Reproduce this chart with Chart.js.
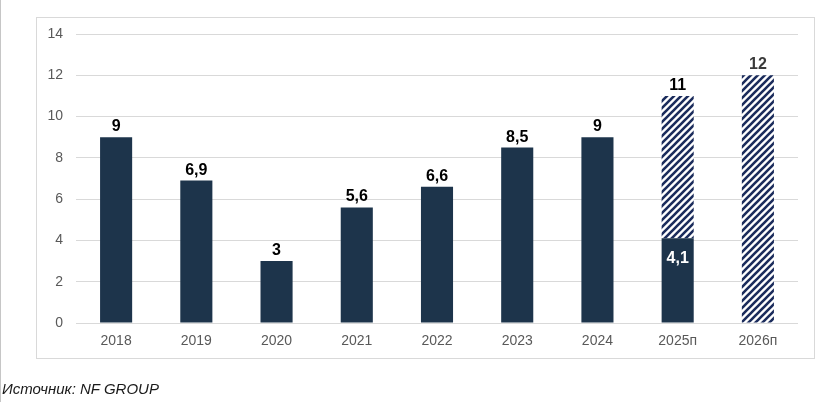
<!DOCTYPE html>
<html><head><meta charset="utf-8">
<script src="https://cdn.jsdelivr.net/npm/chart.js@4"></script>
<style>
html,body{margin:0;padding:0;background:#fff;width:818px;height:402px;overflow:hidden;}
#leftline{position:absolute;left:0;top:0;width:1px;height:402px;background:#c6c6c6;}
#frame{position:absolute;left:36px;top:17px;width:777px;height:340px;border:1px solid #d9d9d9;}
#wrap{position:absolute;left:0;top:0;width:818px;height:402px;}
#src{position:absolute;left:2px;top:380px;font:italic 15px "Liberation Sans",Arial,sans-serif;color:#1a1a1a;white-space:nowrap;}
</style></head>
<body>
<div id="leftline"></div>
<div id="frame"></div>
<div id="wrap"><canvas id="c" width="818" height="402"></canvas></div>
<div id="src">Источник: NF GROUP</div>
<script>
const categories = ["2018","2019","2020","2021","2022","2023","2024","2025п","2026п"];
const actualValues = [9, 6.9, 3, 5.6, 6.6, 8.5, 9, 4.1, null];
const forecastTotals = [null, null, null, null, null, null, null, 11, 12];
const actualLabels = ["9","6,9","3","5,6","6,6","8,5","9","4,1",""];
const forecastLabels = ["","","","","","","","11","12"];
const yTicks = [0, 2, 4, 6, 8, 10, 12, 14];

function makeHatch(){
  const s = 7;
  const p = document.createElement('canvas');
  p.width = s; p.height = s;
  const g = p.getContext('2d');
  g.fillStyle = '#ffffff'; g.fillRect(0,0,s,s);
  g.strokeStyle = '#1b2c5c'; g.lineWidth = 2.6; g.lineCap='square';
  g.beginPath();
  g.moveTo(-1, s+1); g.lineTo(s+1, -1);
  g.moveTo(-1-s, s+1); g.lineTo(1, -1);
  g.moveTo(s-1, s+1); g.lineTo(2*s+1, -1);
  g.stroke();
  return document.getElementById('c').getContext('2d').createPattern(p, 'repeat');
}
const hatch = makeHatch();

const forecastData = forecastTotals.map((t,i)=> t==null ? null : [actualValues[i] || 0, t]);

const labelPlugin = {
  id:'labels',
  afterDatasetsDraw(chart){
    const ctx = chart.ctx;
    ctx.save();
    ctx.textAlign='center';
    ctx.font = 'bold 16px "Liberation Sans", Arial, sans-serif';
    const m0 = chart.getDatasetMeta(0), m1 = chart.getDatasetMeta(1);
    categories.forEach((c,i)=>{
      const b0 = m0.data[i];
      if (actualLabels[i] && actualValues[i]!=null){
        if (forecastTotals[i]!=null){
          ctx.fillStyle='#ffffff';
          ctx.textBaseline='alphabetic';
          ctx.fillText(actualLabels[i], b0.x, b0.y+25);
        } else {
          ctx.fillStyle='#000000';
          ctx.textBaseline='alphabetic';
          ctx.fillText(actualLabels[i], b0.x, b0.y-6);
        }
      }
      if (forecastLabels[i] && forecastTotals[i]!=null){
        const b1 = m1.data[i];
        ctx.fillStyle = i===categories.length-1 ? '#3a3a3a' : '#000000';
        ctx.textBaseline='alphabetic';
        ctx.fillText(forecastLabels[i], b1.x, b1.y-6);
      }
    });
    ctx.restore();
  }
};

new Chart(document.getElementById('c'), {
  type:'bar',
  data:{
    labels: categories,
    datasets:[
      {label:'Факт', data: actualValues, backgroundColor:'#1d344b', grouped:false, categoryPercentage:1, barPercentage:0.4, order:1},
      {label:'Прогноз', data: forecastData, backgroundColor: hatch, grouped:false, categoryPercentage:1, barPercentage:0.4, order:2}
    ]
  },
  options:{
    responsive:false,
    animation:false,
    devicePixelRatio:1,
    layout:{padding:{left:0, right:20, top:34, bottom:0}},
    plugins:{legend:{display:false}, tooltip:{enabled:false}},
    scales:{
      x:{
        grid:{display:false, drawTicks:false},
        border:{display:false},
        ticks:{color:'#595959', font:{family:'"Liberation Sans", Arial, sans-serif', size:14}, padding:10},
        afterFit(s){ s.height = 79; }
      },
      y:{
        min:0, max:14,
        afterBuildTicks(s){ s.ticks = yTicks.map(v=>({value:v})); },
        grid:{color:'#d9d9d9', drawTicks:false, lineWidth:1},
        border:{display:false},
        ticks:{color:'#595959', font:{family:'"Liberation Sans", Arial, sans-serif', size:14}, padding:13},
        afterFit(s){ s.width = 76; }
      }
    }
  },
  plugins:[labelPlugin]
});
</script>
</body></html>
